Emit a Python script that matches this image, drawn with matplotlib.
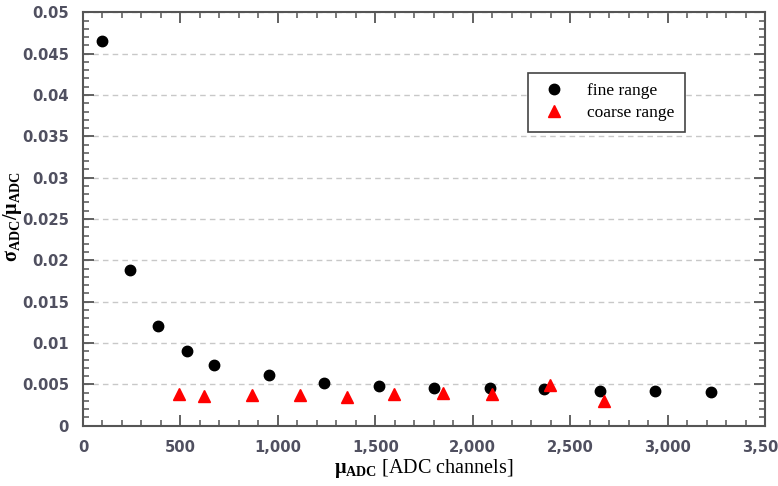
"""
Relative ADC resolution vs mean ADC value, fine and coarse range.
"""

import matplotlib
matplotlib.use("Agg")
import matplotlib.pyplot as plt
from matplotlib.ticker import MultipleLocator, FuncFormatter

# fine range: mean ADC value and sigma/mean
fine_mu = [97, 241, 383, 532, 674, 956, 1236, 1521, 1803, 2087, 2366, 2651, 2934, 3225]
fine_ratio = [0.0465, 0.0188, 0.0121, 0.0090, 0.0074, 0.0061, 0.0052, 0.0048,
              0.00456, 0.00456, 0.0044, 0.00424, 0.00424, 0.00408]

# coarse range
coarse_mu = [493, 622, 868, 1114, 1356, 1597, 1849, 2100, 2396, 2673]
coarse_ratio = [0.00384, 0.0036, 0.00372, 0.00372, 0.00351, 0.0038,
                0.00392, 0.00384, 0.00493, 0.00303]

plt.rcParams["mathtext.fontset"] = "custom"
plt.rcParams["mathtext.rm"] = "Liberation Serif"
plt.rcParams["mathtext.bf"] = "Liberation Serif:bold"
plt.rcParams["mathtext.it"] = "Liberation Serif:italic"


def main() -> None:
    fig = plt.figure(figsize=(7.78, 4.86), dpi=100)
    ax = fig.add_axes([0.1067, 0.124, 0.8766, 0.8507])

    ax.plot(fine_mu, fine_ratio, "o", color="black", markersize=7.5,
            label="fine range", zorder=3)
    ax.plot(coarse_mu, coarse_ratio, "^", color="red", markersize=8.5,
            label="coarse range", zorder=3)

    ax.set_xlim(0, 3500)
    ax.set_ylim(0, 0.05)
    ax.xaxis.set_major_locator(MultipleLocator(500))
    ax.xaxis.set_minor_locator(MultipleLocator(100))
    ax.yaxis.set_major_locator(MultipleLocator(0.005))
    ax.yaxis.set_minor_locator(MultipleLocator(0.001))
    ax.xaxis.set_major_formatter(FuncFormatter(lambda v, p: f"{v:,.0f}"))
    ax.yaxis.set_major_formatter(FuncFormatter(lambda v, p: f"{v:g}" if v else "0"))

    ax.tick_params(which="both", direction="in", top=True, right=True,
                   colors="#555555", labelcolor="#505060")
    ax.tick_params(which="major", length=8, width=1.3, labelsize=10.6)
    ax.tick_params(axis="x", which="major", pad=10)
    ax.tick_params(axis="y", which="major", pad=10)
    ax.tick_params(which="minor", length=4, width=1.1)
    for lab in ax.get_xticklabels() + ax.get_yticklabels():
        lab.set_fontfamily("DejaVu Sans")
        lab.set_fontweight("bold")

    for sp in ax.spines.values():
        sp.set_color("#555555")
        sp.set_linewidth(1.5)

    ax.yaxis.grid(True, which="major", linestyle=(0, (4, 3)),
                  color="#c8c8c8", linewidth=1.0)
    ax.set_axisbelow(True)

    ax.set_xlabel(r"$\mathbf{\mu_{ADC}}$ [ADC channels]", family="Liberation Serif",
                  fontsize=14.5, labelpad=2)
    ax.set_ylabel(r"$\mathbf{\sigma_{ADC}/\mu_{ADC}}$", family="Liberation Serif",
                  fontsize=14.5)
    # label sits tight against the tick labels, as in the original
    ax.yaxis.set_label_coords(-0.087, 0.506)

    leg = ax.legend(loc="upper left", bbox_to_anchor=(0.6525, 0.854),
                    borderaxespad=0,
                    prop={"family": "Liberation Serif", "size": 12.5},
                    fancybox=False, framealpha=1, edgecolor="#444444",
                    handletextpad=1.0, borderpad=0.6, labelspacing=0.35,
                    handlelength=1.8)
    leg.get_frame().set_linewidth(1.2)

    fig.savefig("out.png", dpi=100)
    plt.close(fig)


if __name__ == "__main__":
    main()
